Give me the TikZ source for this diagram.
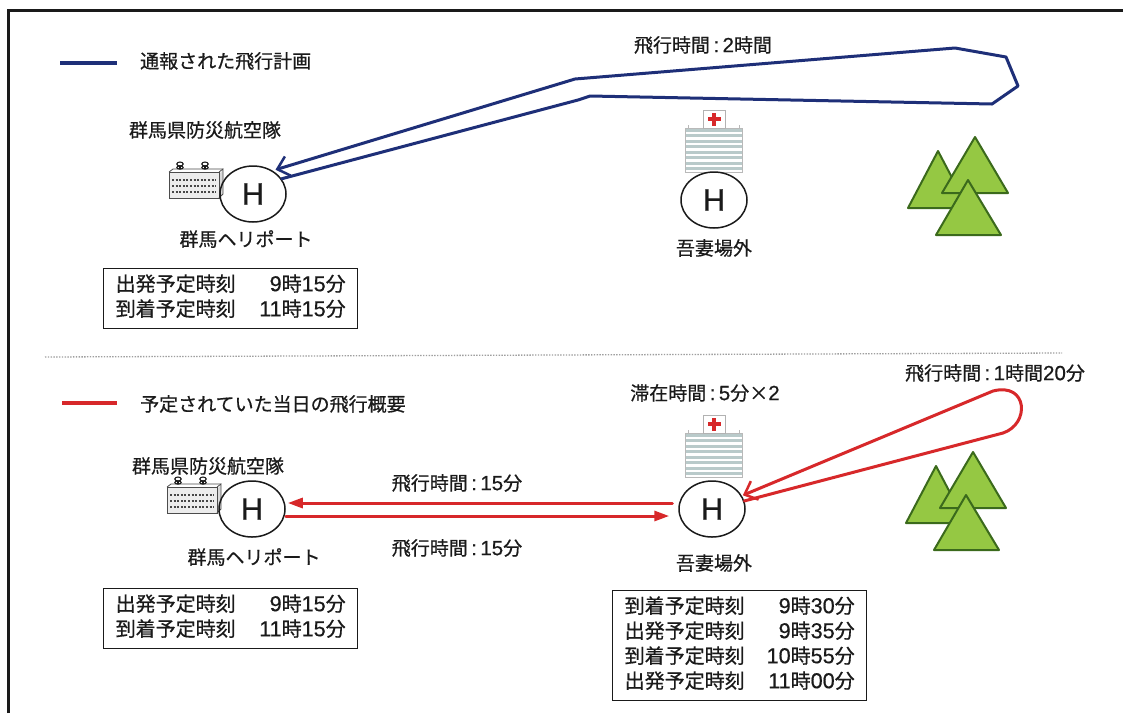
\documentclass[tikz,border=0pt]{standalone}
\usepackage{fontspec}
\setmainfont{Noto Sans CJK JP}[FakeBold=0.6]
\newfontfamily\hfont{Liberation Sans}[FakeBold=0.6]
\newfontfamily\digfont{Liberation Sans}[FakeBold=0.6, Scale=1.08]
\newcommand\lat[1]{{\digfont #1}}
\usetikzlibrary{arrows.meta,shapes.geometric}

\definecolor{planblue}{HTML}{1E2F78}
\definecolor{dayred}{HTML}{D7282A}
\definecolor{leaf}{HTML}{95C843}
\definecolor{leafedge}{HTML}{3B6A1C}
\definecolor{ink}{HTML}{1A1A1A}
\definecolor{stripe}{HTML}{B9CACA}

\tikzset{
  lbl/.style={font=\fontsize{19}{22}\selectfont, text=ink, inner sep=0pt},
  pad/.style={ellipse, draw=ink, line width=1.5pt, minimum width=66pt,
    minimum height=56pt, inner sep=0pt, font=\hfont\fontsize{31}{31}\selectfont, text=ink},
  timebox/.style={draw=ink, line width=1.4pt, inner xsep=12pt, inner ysep=5pt,
    font=\fontsize{20}{25}\selectfont, text=ink, anchor=north west},
  planline/.style={draw=planblue, line width=3pt, line join=round, line cap=round},
  dayline/.style={draw=dayred, line width=3pt, line join=round, line cap=round},
  barb/.style={-{Straight Barb[length=11pt,width=20pt,line width=2.5pt]}},
  headtri/.style={-{Triangle[length=15pt,width=10pt]}},
  mount/.style={fill=leaf, draw=leafedge, line width=2pt, line join=round},
  % fire-station icon, origin at the top-left corner of its body
  station/.pic={
    \fill[gray!15] (0,0) rectangle (50,26);
    \fill[gray!30] (50,2) -- (54,-2) -- (54,22) -- (50,26) -- cycle;
    \draw[gray!60!black, line width=0.8pt] (0,0) rectangle (50,26);
    \draw[gray!60!black, line width=0.8pt] (50,0) -- (54,-3) -- (54,22) -- (50,26);
    \draw[gray!60!black, line width=0.8pt] (0,0) -- (4,-3) -- (54,-3);
    \foreach \r in {8,14,20}
      \draw[gray!55!black, line width=1.6pt, dash pattern=on 2pt off 1.6pt] (3,\r) -- (47,\r);
    \foreach \c in {11,36}{
      \draw[ink, line width=1.1pt] (\c,-3) -- (\c,-6);
      \draw[ink, line width=1.1pt] (\c,-8) ellipse (3.2 and 2);
      \draw[ink, line width=1.1pt] (\c,-4.5) ellipse (3.2 and 1.6);
    }
  },
  % hospital icon, origin at the top-left corner of the building
  hospital/.pic={
    \fill[white] (0,0) rectangle (57,44);
    \foreach \i in {0,...,7}
      \fill[stripe] (0,\i*5.5+0.8) rectangle (57,\i*5.5+3.6);
    \draw[gray!55, line width=0.6pt] (0,0) rectangle (57,44);
    \draw[gray!55, line width=0.6pt] (3,0) -- (3,-3) (54,0) -- (54,-3);
    \draw[gray!60, fill=white, line width=0.7pt] (18,-18) rectangle (40,0);
    \fill[dayred] (27,-15.5) rectangle (31,-2.5);
    \fill[dayred] (22.5,-11) rectangle (35.5,-7);
  },
}

\begin{document}
\begin{tikzpicture}[x=1pt, y=-1pt]
  \useasboundingbox (0,0) rectangle (1123,713);
  \fill[white] (0,0) rectangle (1123,713);

  % outer frame
  \draw[ink, line width=3pt] (8,713) -- (8,10) -- (1123,10);

  % section divider
  \draw[gray!75, line width=1.3pt, dash pattern=on 1.4pt off 1.4pt] (45,357) -- (1062,353);

  % legends
  \draw[planblue, line width=4pt] (60,63) -- (117,63);
  \node[lbl, anchor=west] (legA) at (140,61) {通報された飛行計画};
  \draw[dayred, line width=4pt] (62,403) -- (117,403);
  \node[lbl, anchor=west] (legB) at (140,404) {予定されていた当日の飛行概要};

  % ---------------- upper section: notified plan ----------------
  \node[lbl] (orgA) at (205,130) {群馬県防災航空隊};
  \pic at (169,172) {station};
  \node[pad] (hpA) at (253,194) {H};
  \node[lbl] (heliA) at (246,239) {群馬ヘリポート};

  \pic at (685,128) {hospital};
  \node[pad] (hpB) at (714,200) {H};
  \node[lbl] (agA) at (714,248) {吾妻場外};

  \draw[mount] (908,208) -- (938,151) -- (968,208) -- cycle;
  \draw[mount] (942,193) -- (975,137) -- (1008,193) -- cycle;
  \draw[mount] (936,235) -- (968,180) -- (1001,235) -- cycle;

  \node[lbl] (t2h) at (703,45) {飛行時間\lat{\,:\,2}時間};

  \coordinate (bp1) at (578,100);
  \coordinate (bp2) at (590,96);
  \coordinate (bp3) at (992,104);
  \coordinate (bp4) at (1018,86);
  \coordinate (bp5) at (1006,57);
  \coordinate (bp6) at (955,48);
  \coordinate (bp7) at (575,79);
  \draw[planline, barb, shorten >=3pt]
    (hpA.28) -- (bp1) -- (bp2) -- (bp3) -- (bp4) -- (bp5) -- (bp6) -- (bp7) -- (hpA.50);

  \node[timebox] (boxA) at (103,268)
    {\begin{tabular*}{230pt}{@{}l@{\extracolsep{\fill}}r@{}}
      出発予定時刻 & \lat{9}時\lat{15}分\\
      到着予定時刻 & \lat{11}時\lat{15}分
     \end{tabular*}};

  % ---------------- lower section: planned flights of the day ----------------
  \node[lbl] (orgB) at (208,466) {群馬県防災航空隊};
  \pic at (167,487) {station};
  \node[pad] (hpC) at (252,509) {H};
  \node[lbl] (heliB) at (254,557) {群馬ヘリポート};

  \pic at (685,433) {hospital};
  \node[pad] (hpD) at (712,509) {H};
  \node[lbl] (agB) at (714,563) {吾妻場外};

  \draw[mount] (906,523) -- (936,466) -- (966,523) -- cycle;
  \draw[mount] (940,508) -- (973,452) -- (1006,508) -- cycle;
  \draw[mount] (934,550) -- (966,495) -- (999,550) -- cycle;

  \node[lbl] (stay) at (705,393) {滞在時間\lat{\,:\,5}分×\lat{2}};
  \node[lbl] (t80) at (995,373) {飛行時間\lat{\,:\,1}時間\lat{20}分};
  \node[lbl] (t15a) at (457,483) {飛行時間\lat{\,:\,15}分};
  \node[lbl] (t15b) at (457,548) {飛行時間\lat{\,:\,15}分};

  \draw[dayline, headtri, shorten <=6pt, shorten >=2pt]
    ([yshift=6pt]hpD.west) -- ([yshift=6pt]hpC.east);
  \draw[dayline, headtri, shorten >=9pt]
    ([yshift=-7pt]hpC.east) -- ([yshift=-7pt]hpD.west);

  \coordinate (rl1) at (1003,433);
  \coordinate (rl2) at (993,391);
  \draw[dayline, barb, shorten >=1pt]
    (hpD.14) -- (rl1) .. controls (1030,424) and (1028,382) .. (rl2) -- (hpD.24);

  \node[timebox] (boxB) at (103,588)
    {\begin{tabular*}{230pt}{@{}l@{\extracolsep{\fill}}r@{}}
      出発予定時刻 & \lat{9}時\lat{15}分\\
      到着予定時刻 & \lat{11}時\lat{15}分
     \end{tabular*}};

  \node[timebox] (boxC) at (612,590)
    {\begin{tabular*}{230pt}{@{}l@{\extracolsep{\fill}}r@{}}
      到着予定時刻 & \lat{9}時\lat{30}分\\
      出発予定時刻 & \lat{9}時\lat{35}分\\
      到着予定時刻 & \lat{10}時\lat{55}分\\
      出発予定時刻 & \lat{11}時\lat{00}分
     \end{tabular*}};
\end{tikzpicture}
\end{document}
